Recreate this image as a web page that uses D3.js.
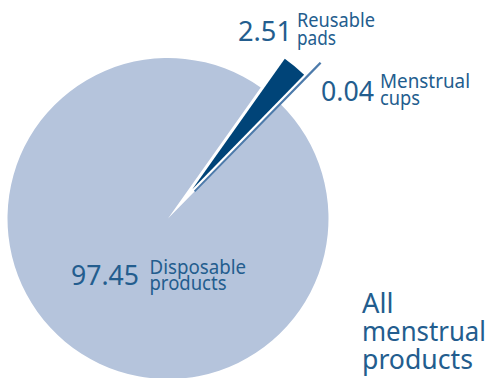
<!DOCTYPE html>
<html><head><meta charset="utf-8">
<script src="https://cdn.jsdelivr.net/npm/d3@7"></script>
<style>body{margin:0;background:#fff}svg{display:block}</style>
</head><body>
<script>
// ---- data ----
const categories = ["Disposable products", "Reusable pads", "Menstrual cups"];
const shareValues = [97.45, 2.51, 0.04];
const valueLabels = ["97.45", "2.51", "0.04"];
const labelLines = [["Disposable", "products"], ["Reusable", "pads"], ["Menstrual", "cups"]];
const totalLabel = ["All", "menstrual", "products"];

// ---- style / layout ----
const W = 491, H = 378;
const cx = 168, cy = 218.5;
const colors = ["#b5c4dc", "#004478", "#4d7bab"];
const radii = [160.5, 160, 179];
const explode = [0, 38, 38];
const textColor = "#235d8e";
const font = "'Noto Sans', 'Open Sans', sans-serif";
const labelLayout = [
  {vx: 71, vy: 285, vw: 68, lx: 149.5, ly: [273.5, 290], lw: [96.5, 77]},
  {vx: 238, vy: 41, vw: 54, lx: 297, ly: [27, 45], lw: [78, 39]},
  {vx: 321, vy: 101, vw: 53, lx: 380, ly: [88, 105], lw: [90, 40]}
];
const totalLayout = {x: 362, y: [313, 341, 369], w: [31.5, 124, 111]};

const svg = d3.select("body").append("svg").attr("width", W).attr("height", H);

const deg = Math.PI / 180;
const start = -315.52 * deg;
const pie = d3.pie().sort(null).value(d => d).startAngle(start).endAngle(start + 2 * Math.PI);
const arcs = pie(shareValues);

const g = svg.append("g").attr("transform", `translate(${cx},${cy})`);
arcs.forEach((a, i) => {
  const arc = d3.arc().innerRadius(0).outerRadius(radii[i]);
  const mid = (a.startAngle + a.endAngle) / 2;
  const dx = explode[i] * Math.sin(mid), dy = -explode[i] * Math.cos(mid);
  const p = g.append("path")
    .attr("d", arc(a))
    .attr("transform", `translate(${dx},${dy})`)
    .attr("fill", colors[i]);
  if (i === 2) p.attr("stroke", colors[i]).attr("stroke-width", 2);
});

labelLayout.forEach((L, i) => {
  svg.append("text").attr("x", L.vx).attr("y", L.vy)
    .attr("font-family", font).attr("font-size", 28).attr("fill", textColor)
    .attr("textLength", L.vw).attr("lengthAdjust", "spacingAndGlyphs")
    .text(valueLabels[i]);
  labelLines[i].forEach((t, j) => {
    svg.append("text").attr("x", L.lx).attr("y", L.ly[j])
      .attr("font-family", font).attr("font-size", 19.5).attr("fill", textColor)
      .attr("textLength", L.lw[j]).attr("lengthAdjust", "spacingAndGlyphs")
      .text(t);
  });
});

totalLabel.forEach((t, j) => {
  svg.append("text").attr("x", totalLayout.x).attr("y", totalLayout.y[j])
    .attr("font-family", font).attr("font-size", 28).attr("fill", textColor)
    .attr("textLength", totalLayout.w[j]).attr("lengthAdjust", "spacingAndGlyphs")
    .text(t);
});
</script>
</body></html>
